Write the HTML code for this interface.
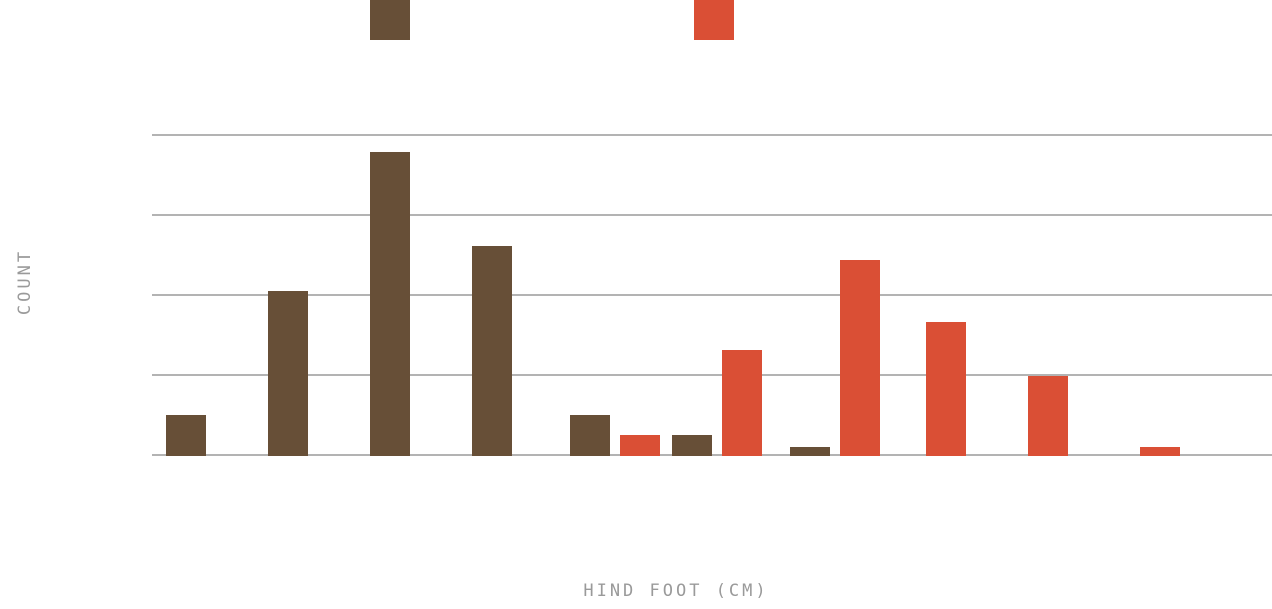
<!DOCTYPE html>
<html><head><meta charset="utf-8"><style>
body{margin:0;background:#fff;width:1272px;height:609px;overflow:hidden}
svg{display:block}
text{font-family:"DejaVu Sans Mono","Liberation Mono",monospace;fill:#9a9a9a;font-size:17px;letter-spacing:3px}
</style></head><body>
<svg id="chart" width="1272" height="609">
<rect x="370" y="0" width="40" height="40" fill="#674f37"/>
<rect x="694" y="0" width="40" height="40" fill="#da4f35"/>
<g id="grid"></g>
<g id="bars"></g>
<text x="676" y="596" text-anchor="middle">HIND FOOT (CM)</text>
<text transform="translate(30,282) rotate(-90)" text-anchor="middle">COUNT</text>
</svg>
<script>
const gridTicks=[0,20,40,60,80];
const brownX=[1.4,11.6,21.8,32,41.8,52,63.8];
const brownVals=[10,41,75.75,52.25,10,5,2];
const redX=[46.8,57,68.8,77.4,87.6,98.8];
const redVals=[5,26.25,48.75,33.25,19.75,2];
const ns="http://www.w3.org/2000/svg";
const x=v=>152+v*10;
const y=v=>455-v*4;
const barW=40;
const g=document.getElementById('grid'),b=document.getElementById('bars');
gridTicks.forEach(t=>{const l=document.createElementNS(ns,'line');
l.setAttribute('x1',152);l.setAttribute('x2',1272);l.setAttribute('y1',y(t));l.setAttribute('y2',y(t));
l.setAttribute('stroke','#b3b3b3');l.setAttribute('stroke-width','2');


g.appendChild(l);});
function draw(xs,vals,color,name){xs.forEach((xv,i)=>{const r=document.createElementNS(ns,'rect');
r.setAttribute('x',x(xv));r.setAttribute('width',barW);r.setAttribute('y',y(vals[i]));r.setAttribute('height',y(0)-y(vals[i])+1);r.setAttribute('fill',color);


b.appendChild(r);});}
draw(brownX,brownVals,'#674f37','bar-brown');
draw(redX,redVals,'#da4f35','bar-red');
</script>
</body></html>
